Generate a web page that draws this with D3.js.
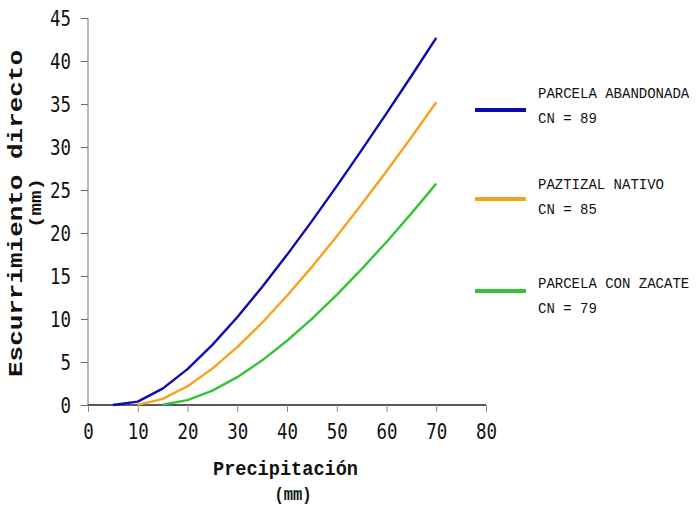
<!DOCTYPE html>
<html>
<head>
<meta charset="utf-8">
<script src="https://cdn.jsdelivr.net/npm/d3@7"></script>
<style>
  html, body { margin: 0; padding: 0; background: #fff; }
  svg { display: block; }
</style>
</head>
<body>
<svg id="chart" width="697" height="509"></svg>
<script>
// ---- data ----
const precipitation = [5, 10, 15, 20, 25, 30, 35, 40, 45, 50, 55, 60, 65, 70];
const abandonada = [0, 0.39, 1.90, 4.17, 6.99, 10.21, 13.72, 17.46, 21.38, 25.45, 29.63, 33.91, 38.26, 42.69];
const pastizal = [null, 0.02, 0.72, 2.18, 4.23, 6.72, 9.57, 12.70, 16.06, 19.62, 23.33, 27.18, 31.14, 35.20];
const zacate = [null, null, 0.03, 0.57, 1.67, 3.24, 5.19, 7.47, 10.02, 12.81, 15.80, 18.96, 22.28, 25.74];
const seriesNames = ["PARCELA ABANDONADA", "PAZTIZAL NATIVO", "PARCELA CON ZACATE"];
const seriesCN = ["CN = 89", "CN = 85", "CN = 79"];
const seriesColors = ["#0a0ab4", "#f7a21e", "#35c435"];
const xTicks = [0, 10, 20, 30, 40, 50, 60, 70, 80];
const yTicks = [0, 5, 10, 15, 20, 25, 30, 35, 40, 45];

const svg = d3.select("#chart");
const x = d3.scaleLinear().domain([0, 80]).range([88, 486]);
const y = d3.scaleLinear().domain([0, 45]).range([405, 18]);

const numFont = "'DejaVu Sans Mono', monospace";
const titleFont = "'Liberation Mono', monospace";

// y axis
const yAxis = svg.append("g").attr("transform", `translate(${x(0)},0)`)
  .call(d3.axisLeft(y).tickValues(yTicks).tickSize(7).tickPadding(10).tickFormat(d3.format("d")));
yAxis.select(".domain").attr("stroke", "#8a8a8a").attr("stroke-width", 1.2).attr("d", `M0,${y(45)}V${y(0)}`);
yAxis.selectAll(".tick line").attr("stroke", "#6a6a6a");
yAxis.selectAll(".tick text")
  .attr("font-family", numFont).attr("font-size", 22).attr("fill", "#111")
  .attr("dy", "0.36em")
  .attr("textLength", d => String(d).length * 10.5).attr("lengthAdjust", "spacingAndGlyphs");

// x axis
const xAxis = svg.append("g").attr("transform", `translate(0,${y(0)})`)
  .call(d3.axisBottom(x).tickValues(xTicks).tickSize(7).tickPadding(12).tickFormat(d3.format("d")));
xAxis.select(".domain").attr("stroke", "#222").attr("stroke-width", 1.3).attr("d", `M${x(0)},0H${x(80)}`);
xAxis.selectAll(".tick line").attr("stroke", "#8a8a8a");
xAxis.selectAll(".tick text")
  .attr("font-family", numFont).attr("font-size", 22).attr("fill", "#111")
  .attr("dy", "0.7em")
  .attr("textLength", d => String(d).length * 10.5).attr("lengthAdjust", "spacingAndGlyphs");

// lines
const allSeries = [abandonada, pastizal, zacate];
const line = d3.line()
  .defined(d => d[1] !== null)
  .x(d => x(d[0])).y(d => y(d[1]));
allSeries.forEach((vals, i) => {
  const pts = precipitation.map((p, j) => [p, vals[j]]);
  svg.append("path").datum(pts)
    .attr("fill", "none").attr("stroke", seriesColors[i])
    .attr("stroke-width", 2.4).attr("stroke-linejoin", "round")
    .attr("d", line);
});

// axis titles
svg.append("text").attr("x", 285.5).attr("y", 475)
  .attr("text-anchor", "middle").attr("font-family", titleFont).attr("font-weight", "bold")
  .attr("font-size", 20).attr("fill", "#111")
  .attr("textLength", 145).attr("lengthAdjust", "spacingAndGlyphs")
  .text("Precipitación");
svg.append("text").attr("x", 293).attr("y", 500)
  .attr("text-anchor", "middle").attr("font-family", titleFont).attr("font-weight", "bold")
  .attr("font-size", 19).attr("fill", "#111")
  .attr("textLength", 37).attr("lengthAdjust", "spacingAndGlyphs")
  .text("(mm)");
svg.append("text").attr("transform", "translate(22,213.5) rotate(-90)")
  .attr("text-anchor", "middle").attr("font-family", titleFont).attr("font-weight", "bold")
  .attr("font-size", 20).attr("fill", "#111")
  .attr("textLength", 327).attr("lengthAdjust", "spacingAndGlyphs")
  .text("Escurrimiento directo");
svg.append("text").attr("transform", "translate(41,203) rotate(-90)")
  .attr("text-anchor", "middle").attr("font-family", titleFont).attr("font-weight", "bold")
  .attr("font-size", 16).attr("fill", "#111")
  .attr("textLength", 50).attr("lengthAdjust", "spacingAndGlyphs")
  .text("(mm)");

// legend
const legendLineY = [110, 199, 291];
const legendTextY = [98, 189, 288];
seriesNames.forEach((name, i) => {
  const g = svg.append("g");
  g.append("line").attr("x1", 475).attr("x2", 526)
    .attr("y1", legendLineY[i]).attr("y2", legendLineY[i])
    .attr("stroke", seriesColors[i]).attr("stroke-width", 4);
  g.append("text").attr("x", 538).attr("y", legendTextY[i])
    .attr("font-family", titleFont).attr("font-size", 14).attr("fill", "#111")
    .attr("textLength", name.length * 8.4).attr("lengthAdjust", "spacingAndGlyphs")
    .text(name);
  g.append("text").attr("x", 538).attr("y", legendTextY[i] + 25)
    .attr("font-family", titleFont).attr("font-size", 14).attr("fill", "#111")
    .attr("textLength", seriesCN[i].length * 8.4).attr("lengthAdjust", "spacingAndGlyphs")
    .text(seriesCN[i]);
});
</script>
</body>
</html>
